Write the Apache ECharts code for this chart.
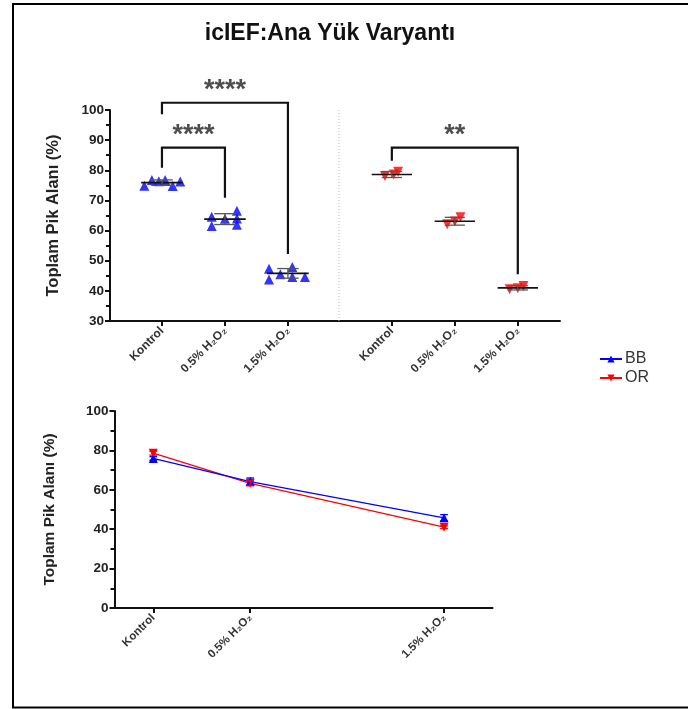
<!DOCTYPE html>
<html>
<head>
<meta charset="utf-8">
<script src="https://cdn.jsdelivr.net/npm/echarts@6/dist/echarts.min.js"></script>
<style>html,body{margin:0;padding:0;background:#fff;}#c{width:688px;height:709px;}</style>
</head>
<body>
<div id="c"></div>
<script>
// ---------- data ----------
const groupLabels = ['Kontrol', '0.5% H₂O₂', '1.5% H₂O₂'];
const topPositions = [1, 2, 3, 4.65, 5.65, 6.65];   // x-axis values of the six columns
const separatorX = 3.81;

// top panel, replicate values
const bbValues = [
  [74.9, 76.8, 76.4, 76.8, 74.8, 76.3],
  [64.6, 61.5, 63.9, 66.6, 64.0, 61.9],
  [47.3, 43.8, 45.5, 47.9, 44.6, 44.6]
];
const bbJitter = [
  [-0.28, -0.16, -0.05, 0.05, 0.17, 0.29],
  [-0.21, -0.21, 0.0, 0.19, 0.19, 0.19],
  [-0.30, -0.30, -0.12, 0.07, 0.07, 0.27]
];
const orValues = [
  [78.1, 78.6, 79.5],
  [62.1, 63.0, 64.4],
  [40.5, 40.9, 41.6]
];
const orJitter = [
  [-0.11, 0.03, 0.10],
  [-0.12, 0.0, 0.09],
  [-0.13, 0.0, 0.09]
];
const bbMean = [75.9, 63.8, 45.8];
const bbSD = [0.9, 1.8, 1.6];
const orMean = [78.6, 63.1, 41.0];
const orSD = [1.0, 1.3, 0.7];

// significance brackets: [x1, x2, y top, y left end, y right end, label]
const brackets = [
  [1, 3, 102.4, 98.6, 52.2, '****'],
  [1, 2, 87.5, 80.8, 70.9, '****'],
  [4.65, 6.65, 87.5, 83.2, 45.5, '**']
];

// bottom panel
const concentrations = [0, 0.5, 1.5];
const bbLineMean = [75.9, 64.2, 45.8];
const bbLineSD = [0.9, 1.8, 1.6];
const orLineMean = [78.6, 63.3, 41.0];
const orLineSD = [1.0, 1.3, 0.7];

// ---------- helpers ----------
const FONT = '"Liberation Sans", Arial, sans-serif';
const BLUE = '#0000ff', RED = '#ff0000', INK = '#111';

function scatterData(values, jitter, offsetIdx) {
  const out = [];
  values.forEach((g, gi) => g.forEach((v, i) => out.push([topPositions[gi + offsetIdx] + jitter[gi][i], v])));
  return out;
}
function topLabel(v) {
  const i = topPositions.findIndex(p => Math.abs(p - v) < 1e-6);
  return i < 0 ? '' : groupLabels[i % 3];
}
function bottomLabel(v) {
  const i = concentrations.findIndex(p => Math.abs(p - v) < 1e-6);
  return i < 0 ? '' : groupLabels[i];
}
function meanSdRender(halfMean, halfCap, meanColor, sdColor) {
  return function (params, api) {
    const x = api.value(0), m = api.value(1), sd = api.value(2);
    const c = api.coord([x, m]);
    const top = api.coord([x, m + sd]);
    const bot = api.coord([x, m - sd]);
    const hm = api.size([halfMean, 0])[0];
    const hc = api.size([halfCap, 0])[0];
    const children = [];
    if (halfMean > 0) children.push({type: 'line', shape: {x1: c[0] - hm, y1: c[1], x2: c[0] + hm, y2: c[1]}, style: {stroke: meanColor, lineWidth: 1.6}});
    children.push({type: 'line', shape: {x1: c[0], y1: top[1], x2: c[0], y2: bot[1]}, style: {stroke: sdColor, lineWidth: 1.3}});
    children.push({type: 'line', shape: {x1: c[0] - hc, y1: top[1], x2: c[0] + hc, y2: top[1]}, style: {stroke: sdColor, lineWidth: 1.3}});
    children.push({type: 'line', shape: {x1: c[0] - hc, y1: bot[1], x2: c[0] + hc, y2: bot[1]}, style: {stroke: sdColor, lineWidth: 1.3}});
    return {type: 'group', children};
  };
}

const axisLineStyle = {color: INK, width: 2};
const yLabel = 'Toplam Pik Alanı (%)';

const series = [];
// bottom lines first (legend icons use line + symbol)
series.push({name: 'BB', type: 'line', xAxisIndex: 1, yAxisIndex: 1,
  data: concentrations.map((c, i) => [c, bbLineMean[i]]),
  symbol: 'triangle', symbolSize: 9, color: BLUE,
  lineStyle: {color: BLUE, width: 1.3}, itemStyle: {color: BLUE}, z: 5});
series.push({name: 'OR', type: 'line', xAxisIndex: 1, yAxisIndex: 1,
  data: concentrations.map((c, i) => [c, orLineMean[i]]),
  symbol: 'triangle', symbolRotate: 180, symbolSize: 9, color: RED,
  lineStyle: {color: RED, width: 1.3}, itemStyle: {color: RED}, z: 4});
series.push({name: 'BB', type: 'custom', xAxisIndex: 1, yAxisIndex: 1,
  data: concentrations.map((c, i) => [c, bbLineMean[i], bbLineSD[i]]),
  renderItem: meanSdRender(0, 0.02, BLUE, BLUE), z: 6});
series.push({name: 'OR', type: 'custom', xAxisIndex: 1, yAxisIndex: 1,
  data: concentrations.map((c, i) => [c, orLineMean[i], orLineSD[i]]),
  renderItem: meanSdRender(0, 0.02, RED, RED), z: 6});

// top scatter
series.push({name: 'BB', type: 'scatter', xAxisIndex: 0, yAxisIndex: 0,
  data: scatterData(bbValues, bbJitter, 0), symbol: 'triangle', symbolSize: 10,
  itemStyle: {color: BLUE}, z: 3});
series.push({name: 'OR', type: 'scatter', xAxisIndex: 0, yAxisIndex: 0,
  data: scatterData(orValues, orJitter, 3), symbol: 'triangle', symbolRotate: 180, symbolSize: 10,
  itemStyle: {color: RED}, z: 3});
// mean + SD
series.push({type: 'custom', xAxisIndex: 0, yAxisIndex: 0,
  data: bbMean.map((m, i) => [topPositions[i], m, bbSD[i]]),
  renderItem: meanSdRender(0.33, 0.17, INK, '#555'), z: 7});
series.push({type: 'custom', xAxisIndex: 0, yAxisIndex: 0,
  data: orMean.map((m, i) => [topPositions[i + 3], m, orSD[i]]),
  renderItem: meanSdRender(0.32, 0.16, INK, '#555'), z: 7});
// separator
series.push({type: 'line', xAxisIndex: 0, yAxisIndex: 0, data: [[separatorX, 30], [separatorX, 100]],
  symbol: 'none', lineStyle: {color: '#bbb', width: 1, type: [1, 2]}, silent: true, z: 1});
// brackets
brackets.forEach(b => {
  series.push({type: 'line', xAxisIndex: 0, yAxisIndex: 0, clip: false, symbol: 'none', silent: true,
    data: [[b[0], b[3]], [b[0], b[2]], [b[1], b[2]], [b[1], b[4]]],
    lineStyle: {color: INK, width: 2.2, join: 'miter'}, z: 8});
});
series.push({type: 'scatter', xAxisIndex: 0, yAxisIndex: 0, clip: false, silent: true, symbolSize: 1,
  itemStyle: {color: 'rgba(0,0,0,0)'},
  data: brackets.map(b => ({value: [(b[0] + b[1]) / 2, b[2]], label: {formatter: b[5]}})),
  label: {show: true, position: 'top', distance: -2, color: '#222', fontSize: 27, fontWeight: 'bold', fontFamily: FONT}, z: 8});

const option = {
  animation: false,
  backgroundColor: '#fff',
  grid: [
    {left: 110, top: 110, width: 450, height: 211},
    {left: 114.5, top: 411, width: 378, height: 197}
  ],
  legend: {
    data: ['BB', 'OR'], orient: 'vertical', left: 594, top: 346, itemGap: 3,
    itemWidth: 22, itemHeight: 9,
    textStyle: {fontSize: 16, color: '#333', fontFamily: FONT, padding: [0, 0, 0, -2]}
  },
  xAxis: [
    {gridIndex: 0, type: 'value', min: 0.175, max: 7.32,
      axisLine: {show: true, onZero: false, lineStyle: axisLineStyle},
      splitLine: {show: false},
      axisTick: {show: true, customValues: topPositions, length: 5, lineStyle: axisLineStyle},
      axisLabel: {customValues: topPositions, formatter: topLabel, rotate: 45, margin: 8,
        fontSize: 12, fontWeight: 'bold', color: '#333', fontFamily: FONT}},
    {gridIndex: 1, type: 'value', min: -0.2, max: 1.75,
      axisLine: {show: true, onZero: false, lineStyle: axisLineStyle},
      splitLine: {show: false},
      axisTick: {show: true, customValues: concentrations, length: 5, lineStyle: axisLineStyle},
      axisLabel: {customValues: concentrations, formatter: bottomLabel, rotate: 45, margin: 8,
        fontSize: 11.5, fontWeight: 'bold', color: '#333', fontFamily: FONT}}
  ],
  yAxis: [
    {gridIndex: 0, type: 'value', min: 30, max: 100, interval: 10,
      name: yLabel, nameLocation: 'middle', nameGap: 48,
      nameTextStyle: {fontSize: 16.5, fontWeight: 'bold', color: '#222', fontFamily: FONT},
      axisLine: {show: true, onZero: false, lineStyle: axisLineStyle},
      axisTick: {show: true, length: 5, lineStyle: axisLineStyle},
      minorTick: {show: true, splitNumber: 2, length: 4, lineStyle: axisLineStyle},
      splitLine: {show: false},
      axisLabel: {fontSize: 13.5, fontWeight: 'bold', color: '#222', margin: 6, fontFamily: FONT}},
    {gridIndex: 1, type: 'value', min: 0, max: 100, interval: 20,
      name: yLabel, nameLocation: 'middle', nameGap: 57,
      nameTextStyle: {fontSize: 15.5, fontWeight: 'bold', color: '#222', fontFamily: FONT},
      axisLine: {show: true, onZero: false, lineStyle: axisLineStyle},
      axisTick: {show: true, length: 5, lineStyle: axisLineStyle},
      minorTick: {show: true, splitNumber: 2, length: 4, lineStyle: axisLineStyle},
      splitLine: {show: false},
      axisLabel: {fontSize: 13.5, fontWeight: 'bold', color: '#222', margin: 6, fontFamily: FONT}}
  ],
  graphic: [
    {type: 'rect', shape: {x: 13, y: 4, width: 700, height: 703.5},
      style: {fill: 'none', stroke: '#000', lineWidth: 2}, silent: true, z: 100},
    {type: 'text', x: 330, y: 34,
      style: {text: 'icIEF:Ana Yük Varyantı', align: 'center', verticalAlign: 'middle',
        fontSize: 23, fontWeight: 'bold', fill: '#111', fontFamily: FONT}, z: 100}
  ],
  series: series
};
const chart = echarts.init(document.getElementById('c'), null, {renderer: 'canvas'});
chart.setOption(option);
</script>
</body>
</html>
